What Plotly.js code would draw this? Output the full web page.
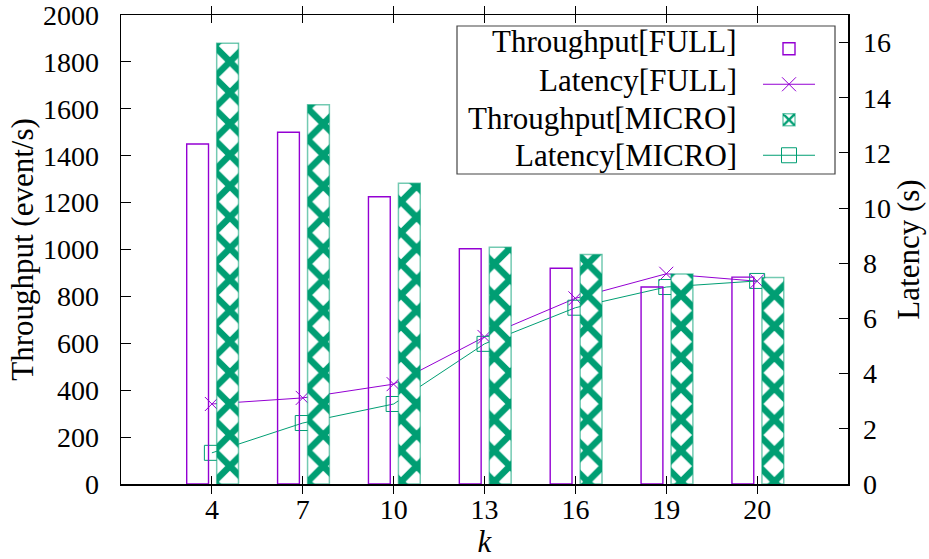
<!DOCTYPE html>
<html>
<head>
<meta charset="utf-8">
<script src="https://cdn.plot.ly/plotly-3.0.1.min.js"></script>
<style>html,body{margin:0;padding:0;background:#fff;}#chart{width:929px;height:559px;}</style>
</head>
<body>
<div id="chart"></div>
<script>
// Data
const kLabels = ['4', '7', '10', '13', '16', '19', '20'];
const throughputFull = [1450, 1500, 1225, 1003, 920, 840, 882];
const throughputMicro = [1880, 1617, 1283, 1010, 979, 895, 881];
const latencyFull = [2.9, 3.12, 3.62, 5.33, 6.73, 7.62, 7.35];
const latencyMicro = [1.13, 2.21, 2.9, 5.08, 6.39, 7.14, 7.36];
const seriesNames = ['Throughput[FULL]', 'Latency[FULL]', 'Throughput[MICRO]', 'Latency[MICRO]'];

const PURPLE = '#9400d3';
const GREEN = '#009e73';
const FONT = 'Liberation Serif';
const blank = '\u00a0';

const traces = [
  {
    type: 'scatter', mode: 'lines+markers', x: kLabels, y: latencyFull,
    xaxis: 'x', yaxis: 'y', name: blank, legendrank: 2,
    line: {color: PURPLE, width: 1},
    marker: {symbol: 'x-thin-open', size: 14, color: PURPLE, line: {color: PURPLE, width: 1}}
  },
  {
    type: 'scatter', mode: 'lines+markers', x: kLabels, y: latencyMicro,
    xaxis: 'x', yaxis: 'y', name: blank, legendrank: 4,
    line: {color: GREEN, width: 1},
    marker: {symbol: 'square-open', size: 15, color: GREEN, line: {color: GREEN, width: 1}}
  },
  {
    type: 'bar', x: kLabels, y: throughputFull, xaxis: 'x', yaxis: 'y2',
    name: blank, legendrank: 1, width: 0.24, offset: -0.277,
    marker: {color: 'rgba(0,0,0,0)', line: {color: PURPLE, width: 1.4}}
  },
  {
    type: 'bar', x: kLabels, y: throughputMicro, xaxis: 'x', yaxis: 'y2',
    name: blank, legendrank: 3, width: 0.24, offset: 0.053,
    marker: {color: 'white', line: {color: 'rgba(0,158,115,0.55)', width: 1.5},
      pattern: {shape: 'x', fgcolor: GREEN, bgcolor: 'white', size: 22, solidity: 0.5}}
  }
];

const W = 727, H = 469, L0 = 121, T0 = 15;
const px = v => (v - L0) / W;
const py = v => 1 - (v - T0) / H;
const rowsY = [41.7, 80, 118.3, 155.5];

const annotations = seriesNames.map((t, i) => ({
  xref: 'paper', yref: 'paper', x: px(739), y: py(rowsY[i]),
  xanchor: 'right', yanchor: 'middle', showarrow: false,
  text: t, font: {family: FONT, size: 31, color: '#000'}
}));

const layout = {
  width: 929, height: 559,
  margin: {l: 121, r: 81, t: 15, b: 75, pad: 0},
  paper_bgcolor: '#fff', plot_bgcolor: 'rgba(0,0,0,0)',
  font: {family: FONT, size: 28, color: '#000'},
  barmode: 'overlay',
  showlegend: true,
  legend: {
    x: px(758), y: py(26), xanchor: 'left', yanchor: 'top',
    bgcolor: 'rgba(0,0,0,0)', borderwidth: 0,
    font: {family: FONT, size: 25}, itemwidth: 52, tracegroupgap: 0,
    traceorder: 'normal'
  },
  xaxis: {
    type: 'category', range: [-1, 7], showgrid: false, zeroline: false,
    showline: true, linecolor: '#000', linewidth: 1.5, mirror: 'allticks',
    ticks: 'inside', ticklen: 8, tickcolor: '#000', tickwidth: 1,
    tickfont: {family: FONT, size: 28, color: '#000'}, ticklabelstandoff: 0,
    ticklabeloverflow: 'allow',
    title: {text: '<i>k</i>', font: {family: FONT, size: 31, color: '#000'}, standoff: 2}
  },
  yaxis: {
    side: 'right', range: [0, 17], tickvals: [0, 2, 4, 6, 8, 10, 12, 14, 16],
    showgrid: false, zeroline: false, showline: true, linecolor: '#000', linewidth: 1.5,
    ticks: 'inside', ticklen: 9, tickcolor: '#000', tickwidth: 1,
    tickfont: {family: FONT, size: 28, color: '#000'}, ticklabelstandoff: 8,
    ticklabeloverflow: 'allow',
    title: {text: 'Latency (s)', font: {family: FONT, size: 31, color: '#000'}, standoff: 6}
  },
  yaxis2: {
    overlaying: 'y', side: 'left', range: [0, 2000], dtick: 200,
    showgrid: false, zeroline: false, showline: true, linecolor: '#000', linewidth: 1.5,
    ticks: 'inside', ticklen: 10, tickcolor: '#000', tickwidth: 1,
    tickfont: {family: FONT, size: 28, color: '#000'}, ticklabelstandoff: 15,
    ticklabeloverflow: 'allow',
    title: {text: 'Throughput (event/s)', font: {family: FONT, size: 31, color: '#000'}, standoff: 0}
  },
  shapes: [{
    type: 'rect', xref: 'paper', yref: 'paper', layer: 'above',
    x0: px(457), x1: px(835), y0: py(174), y1: py(26),
    line: {color: '#444', width: 1.2}, fillcolor: 'rgba(0,0,0,0)'
  }],
  annotations: annotations
};

Plotly.newPlot('chart', traces, layout, {displayModeBar: false, staticPlot: true});
</script>
</body>
</html>
